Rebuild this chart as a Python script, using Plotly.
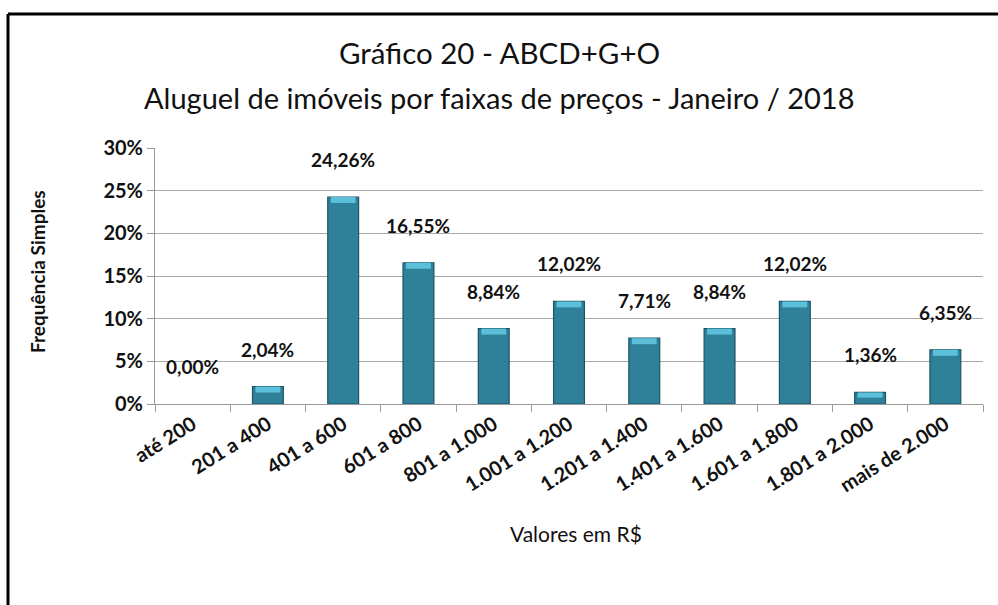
import plotly.graph_objects as go

categories = ["até 200", "201 a 400", "401 a 600", "601 a 800", "801 a 1.000",
              "1.001 a 1.200", "1.201 a 1.400", "1.401 a 1.600", "1.601 a 1.800",
              "1.801 a 2.000", "mais de 2.000"]
values = [0.00, 2.04, 24.26, 16.55, 8.84, 12.02, 7.71, 8.84, 12.02, 1.36, 6.35]
y_ticks = [0, 5, 10, 15, 20, 25, 30]

labels = [f"{v:.2f}%".replace(".", ",") for v in values]

W, H = 998, 605
L, R, T, B = 155, 15, 148, 201
pw, ph = W - L - R, H - T - B

def px_x(x):
    return (x - L) / pw

def px_y(y):
    return (H - B - y) / ph

FONT = "Lato, Calibri, sans-serif"
INK = "#111111"

fig = go.Figure()
fig.add_trace(go.Bar(
    x=categories, y=values, width=0.41,
    marker=dict(color="#2F8199",
                line=dict(color="#1D5566", width=[0 if v == 0 else 1.2 for v in values])),
    hoverinfo="skip",
))
# lighter bevel on the top of each bar
bevel = [min(0.7, v * 0.45) for v in values]
fig.add_trace(go.Bar(
    x=categories, y=bevel, base=[v - b for v, b in zip(values, bevel)],
    width=0.33, marker=dict(color="#5DC0DA", line=dict(width=0)),
    hoverinfo="skip",
))

fig.update_layout(
    width=W, height=H, barmode="overlay", showlegend=False,
    margin=dict(l=L, r=R, t=T, b=B, pad=0),
    paper_bgcolor="white", plot_bgcolor="white",
    font=dict(family=FONT, color=INK),
)
fig.update_xaxes(
    type="category", tickson="boundaries", ticks="outside", ticklen=7,
    tickcolor="#9A9A9A", showline=True, linecolor="#9A9A9A", linewidth=1,
    tickangle=-32, tickfont=dict(family=FONT, size=20, color=INK),
    tickvals=categories, ticktext=[f"<b>{c}</b>" for c in categories],
    showgrid=False, automargin=False,
)
fig.update_yaxes(
    range=[0, 30], tickvals=y_ticks, ticktext=[f"<b>{t}%</b>" for t in y_ticks],
    ticks="outside", ticklen=7, tickcolor="#9A9A9A",
    showline=True, linecolor="#9A9A9A", linewidth=1,
    showgrid=True, gridcolor="#A8A8A8", gridwidth=1,
    tickfont=dict(family=FONT, size=20, color=INK),
    zeroline=False, automargin=False,
)

annotations = [
    dict(text="Gráfico 20 - ABCD+G+O", x=px_x(499), y=px_y(52),
         font=dict(size=29.5, family=FONT, color=INK)),
    dict(text="Aluguel de imóveis por faixas de preços - Janeiro / 2018",
         x=px_x(499), y=px_y(97), font=dict(size=29, family=FONT, color=INK)),
    dict(text="Valores em R$", x=px_x(576), y=px_y(533),
         font=dict(size=21, family=FONT, color=INK)),
    dict(text="<b>Frequência Simples</b>", x=px_x(37), y=px_y(272), textangle=-90,
         font=dict(size=19, family=FONT, color=INK)),
]
for a in annotations:
    a.update(xref="paper", yref="paper", showarrow=False, xanchor="center", yanchor="middle")

# data labels above the bars
for c, v, t in zip(categories, values, labels):
    annotations.append(dict(
        x=c, y=v, xref="x", yref="y", text=f"<b>{t}</b>", showarrow=False,
        xanchor="center", yanchor="bottom", yshift=24,
        font=dict(size=19, family=FONT, color=INK),
    ))
fig.update_layout(annotations=annotations)

# outer frame (top and left edges visible)
fig.add_shape(type="line", xref="paper", yref="paper",
              x0=px_x(8), y0=px_y(14), x1=px_x(998), y1=px_y(14),
              line=dict(color="black", width=3))
fig.add_shape(type="line", xref="paper", yref="paper",
              x0=px_x(8), y0=px_y(14), x1=px_x(8), y1=px_y(605),
              line=dict(color="black", width=3))

fig.write_html("out.html", config={"displayModeBar": False},
               post_script="document.body.style.margin='0';document.body.style.padding='0';document.body.style.overflow='hidden';")
